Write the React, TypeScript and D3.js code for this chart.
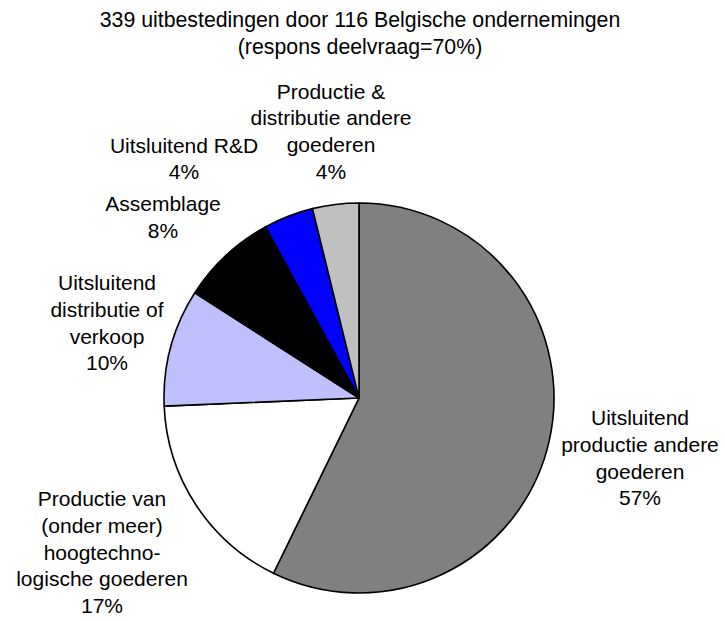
import React from "react";
import * as d3 from "d3";

const titleLines = ["339 uitbestedingen door 116 Belgische ondernemingen", "(respons deelvraag=70%)"];
const categories = [
  "Uitsluitend productie andere goederen",
  "Productie van (onder meer) hoogtechnologische goederen",
  "Uitsluitend distributie of verkoop",
  "Assemblage",
  "Uitsluitend R&D",
  "Productie & distributie andere goederen",
];
const labelLines = [
  ["Uitsluitend", "productie andere", "goederen"],
  ["Productie van", "(onder meer)", "hoogtechno-", "logische goederen"],
  ["Uitsluitend", "distributie of", "verkoop"],
  ["Assemblage"],
  ["Uitsluitend R&D"],
  ["Productie &", "distributie andere", "goederen"],
];
// number of outsourcings per category (total 339)
const counts = [194, 58, 33, 27, 14, 13];
const colors = ["#808080", "#FFFFFF", "#C0C0FF", "#000000", "#0000FF", "#C0C0C0"];

// label anchor offsets relative to pie centre (layout, not data)
const labelOffsets: [number, number][] = [
  [281, 27],
  [-257, 108],
  [-252, -108],
  [-196, -187],
  [-175, -245.5],
  [-28, -299.5],
];

const W = 725;
const H = 621;
const CX = 359;
const CY = 398;
const R = 195;
const FONT = "'Liberation Sans', Arial, sans-serif";
const FS = 21;
const LH = 26.8;

export default function App() {
  const total = d3.sum(counts);
  const pie = d3
    .pie<number>()
    .sort(null)
    .value((d) => d);
  const arcs = pie(counts);
  const arc = d3.arc<d3.PieArcDatum<number>>().innerRadius(0).outerRadius(R);

  return (
    <svg
      width={W}
      height={H}
      style={{ position: "absolute", left: 0, top: 0, background: "#fff" }}
      fontFamily={FONT}
    >
      <rect width={W} height={H} fill="#fff" />
      {titleLines.map((t, i) => (
        <text key={i} x={360} y={26.7 + i * LH} textAnchor="middle" fontSize={21.3} fill="#000">
          {t}
        </text>
      ))}
      <g transform={`translate(${CX},${CY})`}>
        {arcs.map((a, i) => (
          <path key={categories[i]} d={arc(a) || ""} fill={colors[i]} stroke="#000" strokeWidth={1.6} strokeLinejoin="round" />
        ))}
        {arcs.map((a, i) => {
          const [dx, dy] = labelOffsets[i];
          const lines = [...labelLines[i], `${Math.round((counts[i] / total) * 100)}%`];
          return (
            <text key={"l" + i} textAnchor="middle" fontSize={FS} fill="#000">
              {lines.map((ln, j) => (
                <tspan key={j} x={dx} y={dy + j * LH}>
                  {ln}
                </tspan>
              ))}
            </text>
          );
        })}
      </g>
    </svg>
  );
}
